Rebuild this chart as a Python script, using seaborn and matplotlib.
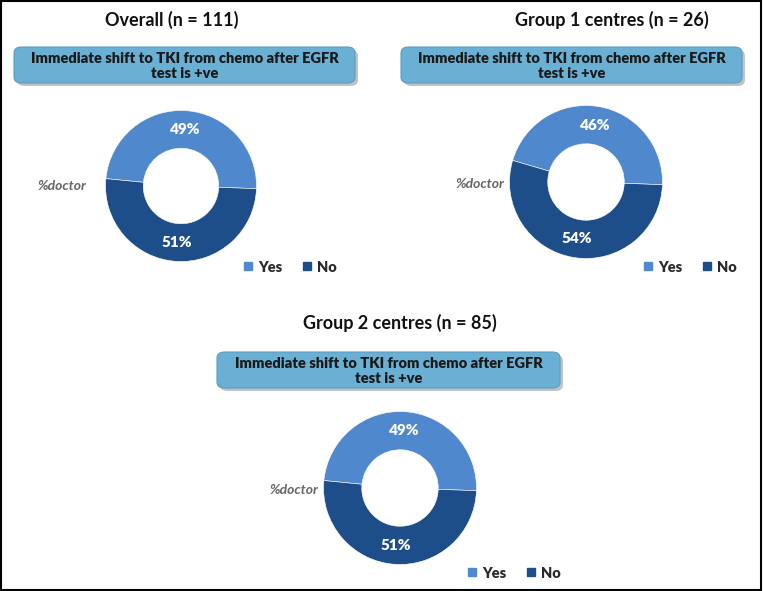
import matplotlib
matplotlib.use("Agg")
import numpy as np
import matplotlib.pyplot as plt
import seaborn as sns
from matplotlib.patches import FancyBboxPatch, Rectangle
from matplotlib.lines import Line2D

sns.set_theme(style="white")
plt.rcParams['font.family'] = ['Lato', 'DejaVu Sans']

# data
panel_titles = ["Overall (n = 111)", "Group 1 centres (n = 26)", "Group 2 centres (n = 85)"]
question = "Immediate shift to TKI from chemo after EGFR\ntest is +ve"
categories = ["Yes", "No"]
yes_pct = [49, 46, 49]
no_pct = [51, 54, 51]
colors = ["#4F88CC", "#1D4E8A"]

W, H = 763, 591
fig = plt.figure(figsize=(W / 100, H / 100), dpi=100)

# layout in pixels: title centre, box (x0, y0, x1, y1), donut centre, radius, %doctor pos, legend pos
layout = [
    dict(title=(172, 20), box=(14, 47, 355, 83), donut=(181, 186), r=77, lab=(62, 186), leg=(290, 267)),
    dict(title=(612, 20), box=(401, 47, 742, 83), donut=(586, 182), r=78, lab=(480, 184), leg=(690, 267)),
    dict(title=(400, 323), box=(217, 352, 560, 388), donut=(400, 488), r=78, lab=(294, 490), leg=(514, 573)),
]


def fx(x):
    return x / W


def fy(y):
    return 1 - y / H


for i, L in enumerate(layout):
    tx, ty = L["title"]
    fig.text(fx(tx), fy(ty), panel_titles[i], ha="center", va="center",
             fontsize=13, fontweight="bold", color="#111111")

    x0, y0, x1, y1 = L["box"]
    shadow = FancyBboxPatch((fx(x0 + 3), fy(y1 + 3)), fx(x1 - x0), (y1 - y0) / H,
                            boxstyle="round,pad=0,rounding_size=0.01",
                            transform=fig.transFigure, facecolor="#9a9a9a",
                            edgecolor="none", alpha=0.6, zorder=1)
    box = FancyBboxPatch((fx(x0), fy(y1)), fx(x1 - x0), (y1 - y0) / H,
                         boxstyle="round,pad=0,rounding_size=0.01",
                         transform=fig.transFigure, facecolor="#6AB0D4",
                         edgecolor="#5a9cc0", linewidth=0.8, zorder=2)
    fig.patches.extend([shadow, box])
    fig.text(fx((x0 + x1) / 2), fy((y0 + y1) / 2 + 1), question, ha="center", va="center",
             fontsize=10.5, fontweight="heavy", color="#1a1a1a", linespacing=1.25, zorder=3)

    cx, cy = L["donut"]
    r = L["r"]
    ax = fig.add_axes([fx(cx - r), fy(cy + r), 2 * r / W, 2 * r / H])
    vals = [yes_pct[i], no_pct[i]]
    wedges, _ = ax.pie(vals, colors=colors, startangle=-2, counterclock=True,
                       radius=1, wedgeprops=dict(width=0.5, edgecolor="white", linewidth=0.4))
    for w, v in zip(wedges, vals):
        ang = np.deg2rad((w.theta1 + w.theta2) / 2)
        ax.text(0.75 * np.cos(ang), 0.75 * np.sin(ang), f"{v}%", ha="center", va="center",
                fontsize=11, fontweight="heavy", color="white")
    ax.set_aspect("equal")
    ax.set_xlim(-1.02, 1.02)
    ax.set_ylim(-1.02, 1.02)
    ax.axis("off")

    lx, ly = L["lab"]
    fig.text(fx(lx), fy(ly), "%doctor", ha="center", va="center", fontsize=10,
             fontstyle="italic", fontweight="bold", color="#666666")

    gx, gy = L["leg"]
    handles = [Line2D([], [], marker="s", linestyle="none", markersize=6,
                      markerfacecolor=c, markeredgecolor=c) for c in colors]
    fig.legend(handles, categories, loc="center", bbox_to_anchor=(fx(gx), fy(gy)),
               ncol=2, frameon=False, handlelength=0.6, handletextpad=0.4,
               columnspacing=1.4, prop=dict(weight="heavy", size=10.5), labelcolor="#2a2a2a")

# outer border
fig.patches.append(Rectangle((0.001, 0.001), 0.997, 0.997, transform=fig.transFigure,
                             fill=False, edgecolor="black", linewidth=1.5))

fig.savefig("out.png", dpi=100)
